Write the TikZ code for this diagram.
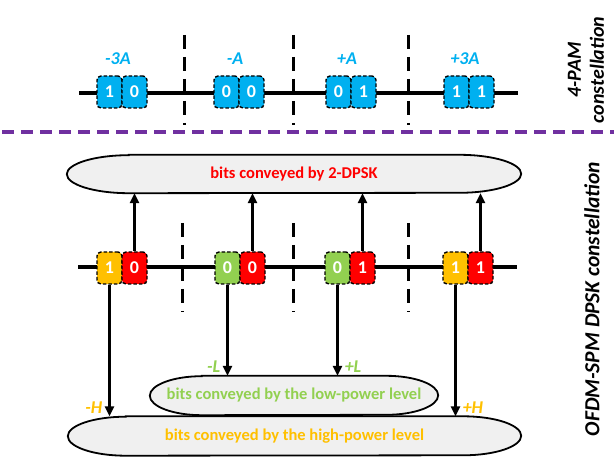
\documentclass[tikz,border=0pt]{standalone}
\usepackage{fontspec}
\setmainfont{Carlito}
\usetikzlibrary{arrows.meta,positioning,backgrounds}
\definecolor{pamblue}{HTML}{00B0F0}
\definecolor{bitred}{HTML}{FF0000}
\definecolor{hiorange}{HTML}{FFC000}
\definecolor{logreen}{HTML}{92D050}
\definecolor{sepurple}{HTML}{7030A0}
\definecolor{capfill}{HTML}{F0F0F0}
\tikzset{
  bit/.style={rectangle,rounded corners=4pt,draw=black,line width=1.4pt,dash pattern=on 3.5pt off 2pt,
    minimum width=25pt,minimum height=32pt,inner sep=0pt,text=white,font=\fontsize{18}{18}\selectfont\bfseries},
  axis/.style={line width=4pt},
  sep/.style={line width=3pt,dash pattern=on 14pt off 8pt},
  arr/.style={line width=2.5pt,-{Triangle[length=10pt,width=9pt]}},
  capsule/.style={rectangle,inner sep=0pt,font=\fontsize{16.5}{16.5}\selectfont\bfseries},
  capline/.style={draw=black,line width=1.8pt,fill=capfill},
  lvl/.style={inner sep=1pt,font=\fontsize{18}{18}\selectfont\bfseries\itshape},
  side/.style={rotate=90,align=center,font=\fontsize{20}{23}\selectfont\bfseries\itshape},
}
% outline of a capsule node: #1 node, #2 end radius, #3 half height
\newcommand\capsuleline[3]{%
  \begin{scope}[on background layer]
  \draw[capline] ([xshift=#2pt]#1.north west) -- ([xshift=-#2pt]#1.north east)
    arc[start angle=90,end angle=-90,x radius=#2pt,y radius=#3pt]
    -- ([xshift=#2pt]#1.south west)
    arc[start angle=270,end angle=90,x radius=#2pt,y radius=#3pt] -- cycle;
  \end{scope}}

\begin{document}
\begin{tikzpicture}[x=1pt,y=1pt]
\useasboundingbox (0,0) rectangle (616,458);

% 4-PAM line
\coordinate (pamL) at (79,365);
\coordinate (pamR) at (518,365);
\foreach \x in {184,293,408}{\draw[sep] (\x,423) -- (\x,333);}
\draw[axis] (pamL) -- (pamR);
\foreach \c/\lbl/\a/\b [count=\i] in {122/-3A/1/0,239/-A/0/0,351/+A/0/1,469/+3A/1/1}{
  \node[bit,fill=pamblue] (tl\i) at (\c-12.5,366) {\a};
  \node[bit,fill=pamblue] (tr\i) at (\c+12.5,366) {\b};
  \node[lvl,text=pamblue] (tv\i) at (\c-4,399) {\lbl};
}
\node[side] (pam) at (586,388) {4-PAM\\constellation};

\draw[sepurple,line width=4pt,dash pattern=on 12pt off 7pt] (2,326) -- (614,326);

% ellipses
\node[capsule,minimum width=454pt,minimum height=38pt,text=bitred] (dpsk) at (294,284) {bits conveyed by 2-DPSK};
\capsuleline{dpsk}{62}{19}
\node[capsule,minimum width=288pt,minimum height=39pt,text=logreen] (low) at (294,62.5) {bits conveyed by the low-power level};
\capsuleline{low}{52}{19.5}
\node[capsule,minimum width=453pt,minimum height=39pt,text=hiorange] (high) at (294.5,22) {bits conveyed by the high-power level};
\capsuleline{high}{58}{19.5}

% OFDM-SPM line
\coordinate (spmL) at (78,191);
\coordinate (spmR) at (517,191);
\foreach \x in {182,293,408}{\draw[sep] (\x,235) -- (\x,146);}
\draw[axis] (spmL) -- (spmR);
\foreach \c/\col/\a/\b [count=\i] in {122/hiorange/1/0,240/logreen/0/0,350/logreen/0/1,468/hiorange/1/1}{
  \node[bit,fill=\col] (bl\i) at (\c-12.5,190) {\a};
  \node[bit,fill=bitred] (br\i) at (\c+12.5,190) {\b};
  \draw[arr] (br\i.north) -- (br\i.north |- dpsk.south);
}
\draw[arr] (bl1.south) -- (bl1.south |- high.north) node[lvl,text=hiorange,anchor=south east,xshift=-5pt,yshift=1pt] (mh) {-H};
\draw[arr] (bl2.south) -- (bl2.south |- low.north) node[lvl,text=logreen,anchor=south east,xshift=-5pt,yshift=1pt] (ml) {-L};
\draw[arr] (bl3.south) -- (bl3.south |- low.north) node[lvl,text=logreen,anchor=south west,xshift=5pt,yshift=1pt] (pl) {+L};
\draw[arr] (bl4.south) -- (bl4.south |- high.north) node[lvl,text=hiorange,anchor=south west,xshift=5pt,yshift=1pt] (ph) {+H};

\node[side,font=\fontsize{21.5}{24}\selectfont\bfseries\itshape] (spm) at (592,159) {OFDM-SPM DPSK constellation};
\end{tikzpicture}
\end{document}
